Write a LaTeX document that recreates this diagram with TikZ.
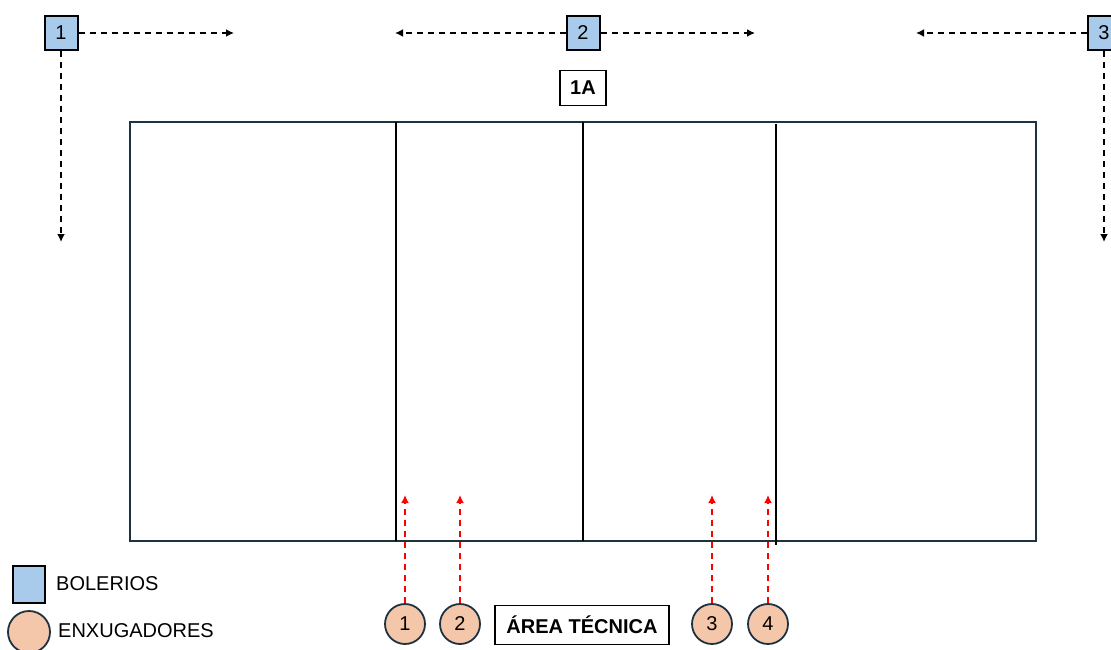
\documentclass[tikz,border=0pt]{standalone}
\usepackage{fontspec}
\setmainfont{Liberation Sans}
\usetikzlibrary{arrows.meta}
\definecolor{boxblue}{HTML}{A8CBEC}
\definecolor{peach}{HTML}{F5C7AA}
\definecolor{edgedark}{HTML}{1E3342}
\begin{document}
\begin{tikzpicture}[x=1pt,y=-1pt,
  bolero/.style={draw=black,line width=2pt,fill=boxblue,minimum width=33pt,minimum height=34pt,inner sep=0pt,font=\fontsize{20}{22}\selectfont},
  enx/.style={circle,draw=edgedark,line width=1.8pt,fill=peach,minimum size=40pt,inner sep=0pt,font=\fontsize{20}{22}\selectfont},
  labelbox/.style={draw=black,line width=1.8pt,fill=white,inner sep=0pt,font=\bfseries\fontsize{20}{22}\selectfont},
  moveb/.style={dashed,dash pattern=on 6pt off 5pt,line width=2pt,-{Latex[length=8pt,width=8pt]}},
  mover/.style={dashed,dash pattern=on 6pt off 5pt,line width=2pt,red,-{Latex[length=8pt,width=8pt]}},
  court/.style={draw=edgedark,line width=1.8pt},
  courtline/.style={draw=black,line width=1.8pt},
  legtext/.style={anchor=west,inner sep=0pt,font=\fontsize{20}{22}\selectfont}]
\useasboundingbox (0,0) rectangle (1111,650);
% court
\draw[court] (130,122) rectangle (1036,541);
\draw[courtline] (396,122) -- (396,541);
\draw[courtline] (583,122) -- (583,541);
\draw[courtline] (776,124) -- (776,545);
% boleros
\node[bolero] (b1) at (61,33) {1};
\node[bolero] (b2) at (583,33) {2};
\node[bolero] (b3) at (1104,33) {3};
\coordinate (b1r) at (234,33);
\coordinate (b1d) at (61,242);
\coordinate (b2l) at (395,33);
\coordinate (b2r) at (755,33);
\coordinate (b3l) at (916,33);
\coordinate (b3d) at (1104,242);
\draw[moveb] (b1.east) -- (b1r);
\draw[moveb] (b1.south) -- (b1d);
\draw[moveb] (b2.west) -- (b2l);
\draw[moveb] (b2.east) -- (b2r);
\draw[moveb] (b3.west) -- (b3l);
\draw[moveb] (b3.south) -- (b3d);
% 1A
\node[labelbox,minimum width=46pt,minimum height=35pt] (ta) at (583,88) {1A};
% enxugadores
\node[enx] (e1) at (405,624) {1};
\node[enx] (e2) at (460,624) {2};
\node[enx] (e3) at (712,624) {3};
\node[enx] (e4) at (768,624) {4};
\coordinate (t1) at (405,495);
\coordinate (t2) at (460,495);
\coordinate (t3) at (712,495);
\coordinate (t4) at (768,495);
\draw[mover] (e1.north) -- (t1);
\draw[mover] (e2.north) -- (t2);
\draw[mover] (e3.north) -- (t3);
\draw[mover] (e4.north) -- (t4);
% area tecnica
\node[labelbox,minimum width=174pt,minimum height=39pt] (at) at (582,625) {ÁREA TÉCNICA};
% legend
\node[bolero,minimum width=32pt,minimum height=37pt] (lb) at (29,584) {};
\node[legtext] (lbt) at (56,584) {BOLERIOS};
\node[enx,minimum size=42pt] (le) at (29,632) {};
\node[legtext] (let) at (58,631) {ENXUGADORES};
\end{tikzpicture}
\end{document}
